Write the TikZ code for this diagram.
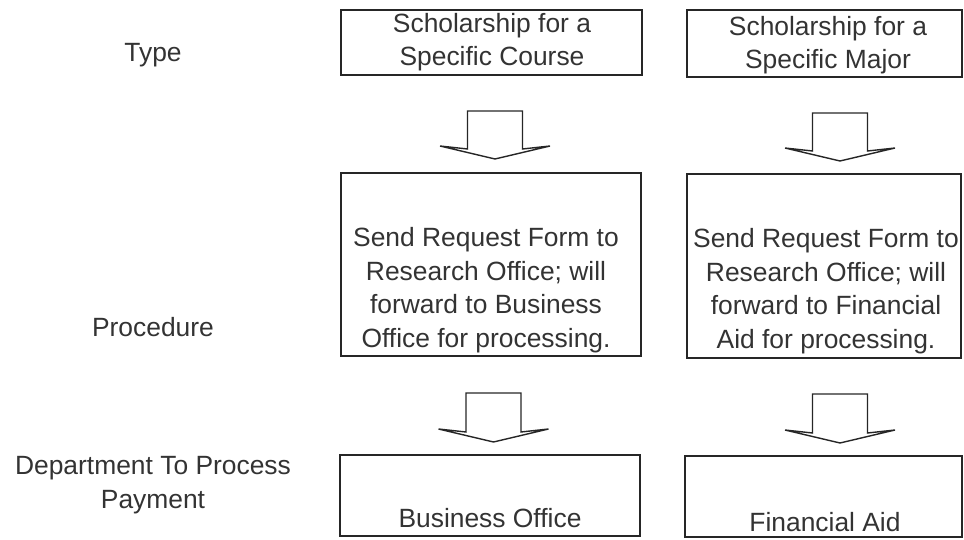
\documentclass[tikz,border=0pt]{standalone}
\usepackage{fontspec}
\setmainfont{Liberation Sans}
\begin{document}
\begin{tikzpicture}[x=1pt,y=-1pt,
  box/.style={draw=black!85,line width=1.6pt,rectangle,inner sep=0pt},
  txt/.style={font=\fontsize{26.4}{33.5}\selectfont,text=black!80,align=center,inner sep=0pt},
  barrowline/.style={draw=black!85,line width=1.4pt,line join=miter}]
\useasboundingbox (0,0) rectangle (964,540);
% row labels
\node[txt] (lt) at (153,55) {Type};
\node[txt] (lp) at (153,327) {Procedure};
\node[txt] (ld) at (153,485) {Department To Process\\Payment};
% boxes
\node[box,minimum width=301pt,minimum height=65pt] (t1) at (491.5,42.5) {};
\node[box,minimum width=275pt,minimum height=67pt] (t2) at (824.5,43.5) {};
\node[box,minimum width=300pt,minimum height=183pt] (p1) at (491,264.5) {};
\node[box,minimum width=274pt,minimum height=184pt] (p2) at (824,266) {};
\node[box,minimum width=300pt,minimum height=81pt] (b1) at (490,495.5) {};
\node[box,minimum width=277pt,minimum height=81pt] (b2) at (823.5,496.5) {};
% texts
\node[txt] (t1t) at (492,42) {Scholarship for a\\Specific Course};
\node[txt] (t2t) at (828,45) {Scholarship for a\\Specific Major};
\node[txt] (p1t) at (486,290) {Send Request Form to\\Research Office; will\\forward to Business\\Office for processing.};
\node[txt] (p2t) at (826,291) {Send Request Form to\\Research Office; will\\forward to Financial\\Aid for processing.};
\node[txt] (b1t) at (490,518) {Business Office};
\node[txt] (b2t) at (825,522) {Financial Aid};
% block arrows
\newcommand\blockarrow[3]{%
  \draw[barrowline] ({#1-27.5},#2) -- ({#1+27.5},#2) -- ({#1+27.5},{#3-10})
    -- ({#1+55},{#3-13}) -- (#1,#3) -- ({#1-55},{#3-13}) -- ({#1-27.5},{#3-10}) -- cycle;}
\coordinate (a1) at (495,111);
\blockarrow{495}{111}{159}
\blockarrow{840}{113}{161}
\blockarrow{493.5}{393}{442}
\blockarrow{840}{394}{443}
\end{tikzpicture}
\end{document}
